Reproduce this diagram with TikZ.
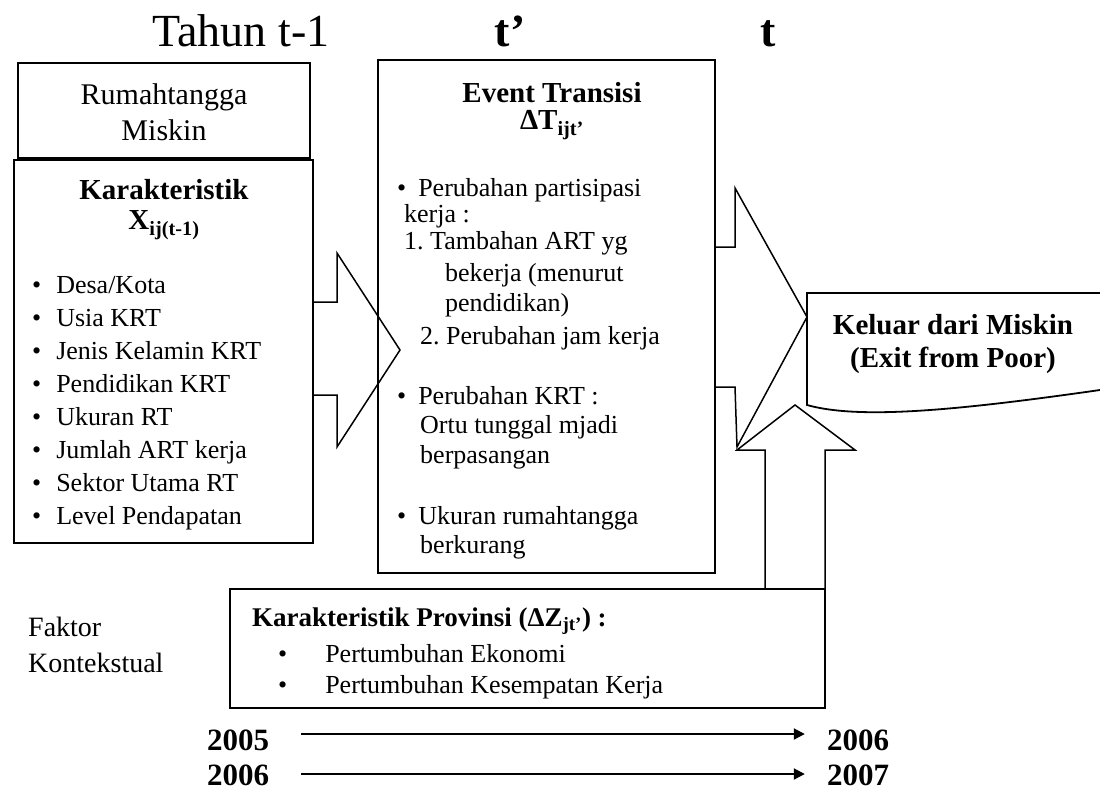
\documentclass[tikz,border=0pt]{standalone}
\usepackage{fontspec}
\setmainfont{Liberation Serif}
\usetikzlibrary{calc,arrows.meta}
\newcommand{\bodyfont}{\fontsize{26}{30}\selectfont}
\newcommand{\headfont}{\fontsize{29}{33}\selectfont\bfseries}
\newcommand{\titlefont}{\fontsize{46}{50}\selectfont}
\tikzset{>={Triangle[length=11pt,width=11pt]},
  box/.style={draw,line width=1.8pt,inner sep=0pt,outer sep=0pt,anchor=north west},
  blockarrow/.style={draw,line width=1.5pt,line join=miter},
  body/.style={inner sep=0pt,font=\bodyfont},
  item/.style={inner sep=0pt,font=\bodyfont,anchor=west,text height=18pt,text depth=6pt},
  head/.style={inner sep=0pt,font=\headfont},
  title/.style={inner sep=0pt,font=\titlefont,anchor=base},
  year/.style={inner sep=0pt,font=\fontsize{31}{34}\selectfont\bfseries},
  yrarrow/.style={->,line width=2pt}}
\begin{document}
\begin{tikzpicture}[x=1pt,y=-1pt]
\useasboundingbox (0,0) rectangle (1100,790);

\node[title] (tahun) at (241,46) {Tahun t-1};
\node[title,font=\titlefont\bfseries] (tprime) at (510,46) {t’};
\node[title,font=\titlefont\bfseries] (tnow) at (768,46) {t};

\node[box,minimum width=292pt,minimum height=95pt] (rumah) at (18,63) {};
\node[box,minimum width=299pt,minimum height=383pt] (karak) at (14,160) {};
\node[box,minimum width=337pt,minimum height=513pt] (event) at (378,60) {};
\node[box,minimum width=595pt,minimum height=119pt] (prov) at (230,589) {};

\node[body,font=\fontsize{30}{34}\selectfont] (rumahA) at (164,97) {Rumahtangga};
\node[body,font=\fontsize{30}{34}\selectfont] (rumahB) at (164,130) {Miskin};

\node[head] (karakA) at (164,190) {Karakteristik};
\node[head] (karakB) at (164,225) {X\textsubscript{ij(t-1)}};
\node[item] (k1) at (32,287) {•\hspace{15pt}Desa/Kota};
\node[item] (k2) at (32,320) {•\hspace{15pt}Usia KRT};
\node[item] (k3) at (32,353) {•\hspace{15pt}Jenis Kelamin KRT};
\node[item] (k4) at (32,386) {•\hspace{15pt}Pendidikan KRT};
\node[item] (k5) at (32,419) {•\hspace{15pt}Ukuran RT};
\node[item] (k6) at (32,452) {•\hspace{15pt}Jumlah ART kerja};
\node[item] (k7) at (32,485) {•\hspace{15pt}Sektor Utama RT};
\node[item] (k8) at (32,518) {•\hspace{15pt}Level Pendapatan};

\node[head] (eventA) at (552,93) {Event Transisi};
\node[head] (eventB) at (552,125) {ΔT\textsubscript{ijt’}};
\node[item] (e1) at (397,190) {•\hspace{12pt}Perubahan partisipasi};
\node[item] (e2) at (404,216) {kerja :};
\node[item] (e3) at (404,243) {1.\ Tambahan ART yg};
\node[item] (e4) at (445,275) {bekerja (menurut};
\node[item] (e5) at (445,305) {pendidikan)};
\node[item] (e6) at (420,338) {2.\ Perubahan jam kerja};
\node[item] (e7) at (397,398) {•\hspace{12pt}Perubahan KRT :};
\node[item] (e8) at (420,427) {Ortu tunggal mjadi};
\node[item] (e9) at (420,457) {berpasangan};
\node[item] (e10) at (397,518) {•\hspace{12pt}Ukuran rumahtangga};
\node[item] (e11) at (420,547) {berkurang};

\draw[line width=1.8pt] (1100,293) -- (807,293) -- (807,405)
  .. controls (860,420) and (960,410) .. (1100,390);
\node[head] (keluarA) at (953,325) {Keluar dari Miskin};
\node[head] (keluarB) at (953,360) {(Exit from Poor)};

\draw[blockarrow] (karak.east |- 0,302) -- (337,302) -- (337,253) -- (400,350)
  -- (337,447) -- (337,395) -- (karak.east |- 0,395);
\draw[blockarrow] (event.east |- 0,247) -- (735,247) -- (735,188) -- (807,317)
  -- (737,447) -- (735,387) -- (event.east |- 0,387);
\draw[blockarrow] (765,589) -- (765,450) -- (737,450) -- (795,405) -- (855,450)
  -- (825,450) -- (825,589);

\node[item,font=\fontsize{28}{32}\selectfont] (faktorA) at (28,630) {Faktor};
\node[item,font=\fontsize{28}{32}\selectfont] (faktorB) at (28,666) {Kontekstual};

\node[item,font=\headfont\fontsize{27}{31}\selectfont] (provA) at (252,620) {Karakteristik Provinsi (ΔZ\textsubscript{jt’}) :};
\node[item] (provB) at (278,656) {•\hspace{38pt}Pertumbuhan Ekonomi};
\node[item] (provC) at (278,687) {•\hspace{38pt}Pertumbuhan Kesempatan Kerja};

\node[year] (y05) at (238,740) {2005};
\node[year] (y06a) at (858,740) {2006};
\node[year] (y06b) at (238,775) {2006};
\node[year] (y07) at (858,775) {2007};
\draw[yrarrow] ([yshift=6pt]y05.east) ++(32,0) -- ([yshift=6pt,xshift=-22pt]y06a.west);
\draw[yrarrow] ([yshift=1pt]y06b.east) ++(32,0) -- ([yshift=1pt,xshift=-22pt]y07.west);
\end{tikzpicture}
\end{document}
